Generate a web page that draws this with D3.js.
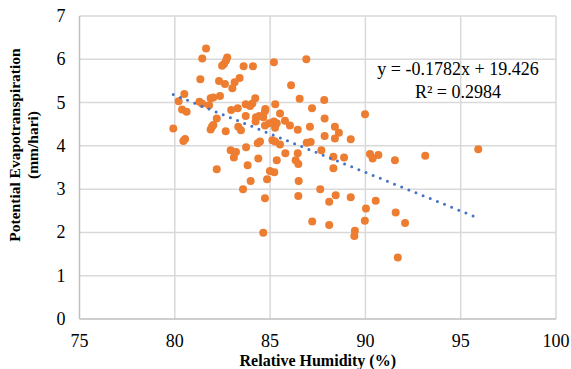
<!DOCTYPE html>
<html>
<head>
<meta charset="utf-8">
<script src="https://cdn.jsdelivr.net/npm/d3@7"></script>
<style>
  body { margin: 0; background: #fff; }
  text { font-family: "Liberation Serif", "Times New Roman", serif; fill: #000; }
</style>
</head>
<body>
<svg id="chart"></svg>
<script>
// relative humidity (%)
const humidity = [
  81.64, 81.44, 82.75, 82.69, 82.58, 82.48, 83.61, 84.10, 85.20, 81.34,
  82.32, 82.63, 83.14, 83.40, 83.02, 86.10, 80.50, 80.20, 80.38, 80.62,
  81.29, 81.44, 81.88, 82.02, 82.37, 81.80, 82.96, 83.30, 83.72, 83.95,
  84.07, 84.22, 84.75, 85.27, 86.55, 86.90, 87.84, 87.20, 89.98, 87.86,
  85.52, 85.78, 79.92, 80.45, 80.54, 83.72, 82.20, 81.95, 81.88, 82.02,
  82.67, 83.33, 83.47, 84.26, 84.43, 84.64, 84.24, 84.73, 84.73, 84.96,
  85.20, 85.35, 85.26, 86.04, 86.45, 84.35, 84.47, 83.74, 82.93, 83.21,
  83.10, 85.12, 85.26, 85.52, 85.80, 85.35, 84.38, 86.34, 86.48, 86.45,
  83.82, 82.20, 84.99, 85.22, 84.84, 83.98, 86.50, 83.58, 84.73, 86.48,
  84.64, 87.09, 88.40, 88.61, 88.40, 87.86, 89.23, 86.92, 87.13, 87.69,
  88.32, 88.88, 88.32, 90.24, 90.38, 90.68, 91.55, 93.14, 87.63, 88.44,
  88.10, 89.23, 90.54, 90.03, 91.59, 89.97, 87.21, 88.10, 89.45, 89.42,
  92.08, 91.70, 95.92
];
// potential evapotranspiration (mm/hari)
const etp = [
  6.25, 6.02, 6.04, 5.97, 5.89, 5.85, 5.84, 5.84, 5.93, 5.54,
  5.50, 5.43, 5.47, 5.57, 5.33, 5.40, 5.20, 5.03, 4.84, 4.79,
  5.02, 4.97, 5.10, 5.12, 5.15, 4.94, 4.83, 4.87, 4.96, 4.92,
  4.98, 5.10, 4.85, 4.96, 5.09, 6.00, 5.06, 4.87, 4.73, 4.63,
  4.75, 4.58, 4.40, 4.11, 4.16, 4.69, 4.63, 4.44, 4.38, 4.48,
  4.34, 4.44, 4.36, 4.66, 4.69, 4.66, 4.56, 4.80, 4.47, 4.52,
  4.56, 4.52, 4.42, 4.47, 4.37, 4.06, 4.10, 3.97, 3.90, 3.86,
  3.73, 4.13, 4.10, 4.03, 3.83, 3.67, 3.71, 3.67, 3.58, 3.83,
  3.55, 3.46, 3.42, 3.39, 3.23, 3.19, 3.19, 3.00, 2.79, 2.84,
  1.99, 4.44, 4.44, 4.30, 4.17, 4.23, 4.15, 4.07, 4.09, 3.90,
  3.75, 3.73, 3.48, 3.81, 3.71, 3.79, 3.67, 3.77, 3.00, 2.86,
  2.71, 2.81, 2.73, 2.55, 2.46, 2.27, 2.25, 2.17, 2.04, 1.92,
  2.22, 1.42, 3.92
];
const xTicks = [75, 80, 85, 90, 95, 100];
const yTicks = [0, 1, 2, 3, 4, 5, 6, 7];
const slope = -0.1782, intercept = 19.426;
const eqLines = ['y = -0.1782x + 19.426', 'R² = 0.2984'];

const width = 571, height = 369;
const margin = { top: 16, right: 15, bottom: 50, left: 79.5 };

const svg = d3.select('#chart')
  .attr('width', width)
  .attr('height', height);

const x = d3.scaleLinear().domain([75, 100]).range([margin.left, width - margin.right]);
const y = d3.scaleLinear().domain([0, 7]).range([height - margin.bottom, margin.top]);

// gridlines
svg.append('g')
  .selectAll('line')
  .data(yTicks.slice(1))
  .enter()
  .append('line')
  .attr('x1', x(75)).attr('x2', x(100))
  .attr('y1', d => y(d)).attr('y2', d => y(d))
  .attr('stroke', '#d9d9d9').attr('stroke-width', 1.5);

svg.append('g')
  .selectAll('line')
  .data(xTicks.slice(1))
  .enter()
  .append('line')
  .attr('x1', d => x(d)).attr('x2', d => x(d))
  .attr('y1', y(0)).attr('y2', y(7))
  .attr('stroke', '#d9d9d9').attr('stroke-width', 1.5);

// axes lines
svg.append('line')
  .attr('x1', x(75)).attr('x2', x(100))
  .attr('y1', y(0)).attr('y2', y(0))
  .attr('stroke', '#bfbfbf').attr('stroke-width', 1.5);
svg.append('line')
  .attr('x1', x(75)).attr('x2', x(75))
  .attr('y1', y(0)).attr('y2', y(7))
  .attr('stroke', '#bfbfbf').attr('stroke-width', 1.5);

// tick labels
svg.append('g')
  .selectAll('text')
  .data(xTicks)
  .enter()
  .append('text')
  .attr('x', d => x(d))
  .attr('y', y(0) + 28)
  .attr('text-anchor', 'middle')
  .style('font-size', '18px')
  .text(d => d);

svg.append('g')
  .selectAll('text')
  .data(yTicks)
  .enter()
  .append('text')
  .attr('x', x(75) - 14)
  .attr('y', d => y(d) + 6)
  .attr('text-anchor', 'end')
  .style('font-size', '18px')
  .text(d => d);

// points
svg.append('g')
  .selectAll('circle')
  .data(humidity.map((h, i) => [h, etp[i]]))
  .enter()
  .append('circle')
  .attr('cx', d => x(d[0]))
  .attr('cy', d => y(d[1]))
  .attr('r', 4)
  .attr('fill', '#ed7d31');

// linear trendline across data range
const xMin = d3.min(humidity), xMax = d3.max(humidity);
svg.append('line')
  .attr('x1', x(xMin)).attr('y1', y(slope * xMin + intercept))
  .attr('x2', x(xMax)).attr('y2', y(slope * xMax + intercept))
  .attr('stroke', '#4472c4')
  .attr('stroke-width', 3)
  .attr('stroke-linecap', 'round')
  .attr('stroke-dasharray', '0,7.7');

// equation
svg.append('g')
  .selectAll('text')
  .data(eqLines)
  .enter()
  .append('text')
  .attr('x', 458)
  .attr('y', (d, i) => 75 + i * 23)
  .attr('text-anchor', 'middle')
  .style('font-size', '18px')
  .text(d => d);

// axis titles
svg.append('text')
  .attr('x', (x(75) + x(100)) / 2)
  .attr('y', 366)
  .attr('text-anchor', 'middle')
  .style('font-size', '16px')
  .style('font-weight', 'bold')
  .text('Relative Humidity (%)');

const yMid = 145;
svg.append('text')
  .attr('transform', 'translate(20,' + yMid + ') rotate(-90)')
  .attr('text-anchor', 'middle')
  .style('font-size', '15.5px')
  .style('font-weight', 'bold')
  .text('Potential Evapotranspiration');
svg.append('text')
  .attr('transform', 'translate(38,' + yMid + ') rotate(-90)')
  .attr('text-anchor', 'middle')
  .style('font-size', '15.5px')
  .style('font-weight', 'bold')
  .text('(mm/hari)');
</script>
</body>
</html>
